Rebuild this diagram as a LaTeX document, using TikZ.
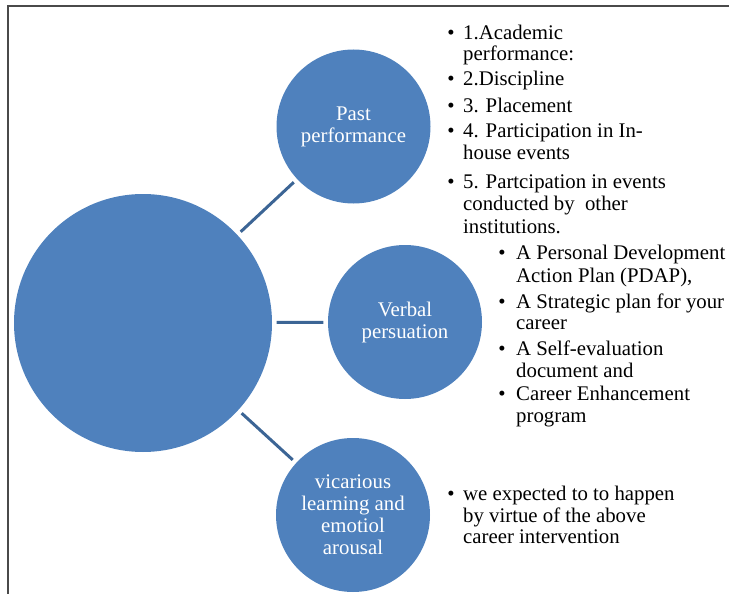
\documentclass[tikz,border=0pt]{standalone}
\usepackage{fontspec}
\setmainfont{Liberation Serif}
\definecolor{circfill}{HTML}{4F81BD}
\definecolor{linkcol}{HTML}{3C6595}
\definecolor{framecol}{HTML}{4A4A4A}
\tikzset{
  bubble/.style={circle, fill=circfill, draw=none, text=white, align=center,
    inner sep=0pt, font=\fontsize{20.8}{22}\selectfont},
  link/.style={draw=linkcol, line width=3pt, shorten <=4.5pt, shorten >=4.5pt},
  itemtext/.style={anchor=base west, inner sep=0pt, font=\fontsize{20.8}{22}\selectfont},
  bulletmark/.style={anchor=base, inner sep=0pt, font=\fontsize{20.8}{22}\selectfont},
}
\begin{document}
\begin{tikzpicture}[x=1pt, y=-1pt]
\useasboundingbox (0,0) rectangle (729,594);
\coordinate (f1) at (8,594);
\coordinate (f2) at (8,6);
\coordinate (f3) at (729,6);
\draw[framecol, line width=1.5pt] (f1) -- (f2) -- (f3);

\node[bubble, minimum size=258pt] (big) at (143,323) {};
\node[bubble, minimum size=154pt] (past) at (353.5,126.5) {Past\\performance};
\node[bubble, minimum size=154pt] (verbal) at (405,322) {Verbal\\persuation};
\node[bubble, minimum size=154pt] (vic) at (353,515) {vicarious\\learning and\\emotiol\\arousal};

\draw[link] (big) -- (past);
\draw[link] (big) -- (verbal);
\draw[link] (big) -- (vic);

% block 1
\node[bulletmark] (b11) at (451,40) {•};
\node[itemtext] (t11a) at (463,40) {1.Academic};
\node[itemtext] (t11b) at (463,61) {performance:};
\node[bulletmark] (b12) at (451,86) {•};
\node[itemtext] (t12) at (463,86) {2.Discipline};
\node[bulletmark] (b13) at (451,113) {•};
\node[itemtext] (t13) at (463,113) {3. Placement};
\node[bulletmark] (b14) at (451,138) {•};
\node[itemtext] (t14a) at (463,138) {4. Participation in In-};
\node[itemtext] (t14b) at (463,160) {house events};
\node[bulletmark] (b15) at (451,188) {•};
\node[itemtext] (t15a) at (463,188) {5. Partcipation in events};
\node[itemtext] (t15b) at (463,210) {conducted by\ \ other};
\node[itemtext] (t15c) at (463,233) {institutions.};

% block 2
\node[bulletmark] (b21) at (502,259) {•};
\node[itemtext] (t21a) at (516,259) {A Personal Development};
\node[itemtext] (t21b) at (516,282) {Action Plan (PDAP),};
\node[bulletmark] (b22) at (502,308) {•};
\node[itemtext] (t22a) at (516,308) {A Strategic plan for your};
\node[itemtext] (t22b) at (516,329) {career};
\node[bulletmark] (b23) at (502,355) {•};
\node[itemtext] (t23a) at (516,355) {A Self-evaluation};
\node[itemtext] (t23b) at (516,377) {document and};
\node[bulletmark] (b24) at (502,400) {•};
\node[itemtext] (t24a) at (516,400) {Career Enhancement};
\node[itemtext] (t24b) at (516,422) {program};

% block 3
\node[bulletmark] (b31) at (451,500) {•};
\node[itemtext] (t31a) at (463,500) {we expected to to happen};
\node[itemtext] (t31b) at (463,522) {by virtue of the above};
\node[itemtext] (t31c) at (463,543) {career intervention};
\end{tikzpicture}
\end{document}
